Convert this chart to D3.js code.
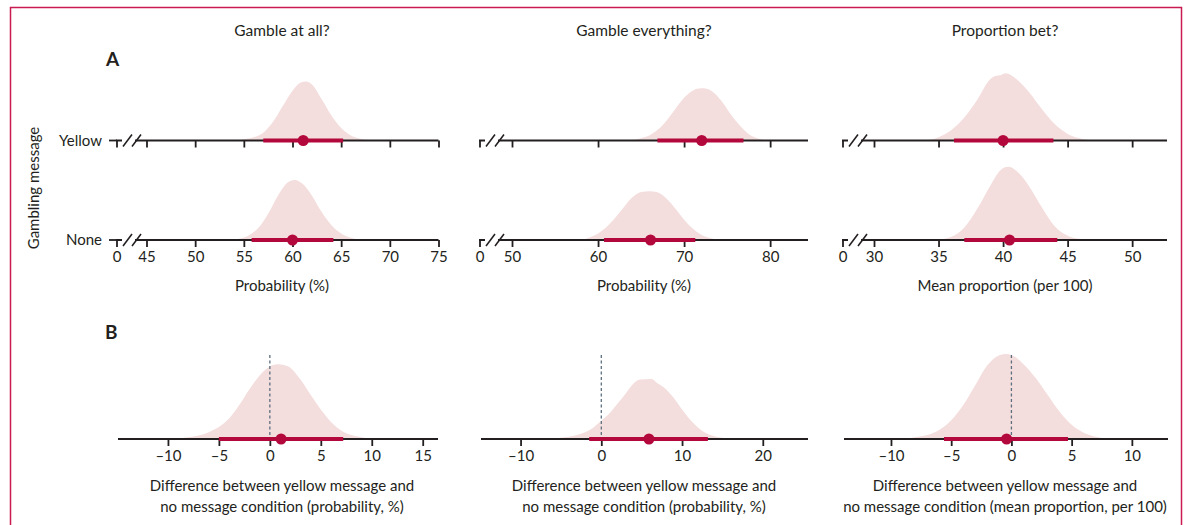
<!DOCTYPE html>
<html>
<head>
<meta charset="utf-8">
<script src="https://cdn.jsdelivr.net/npm/d3@7"></script>
<style>
  body { margin: 0; background: #fff; }
  svg text { font-family: Lato, 'Open Sans', sans-serif; fill: #231f20; }
</style>
</head>
<body>
<svg id="chart" width="1189" height="525"></svg>
<script>
// titles and labels
var columnTitles = ['Gamble at all?', 'Gamble everything?', 'Proportion bet?'];
var rowLabels = ['Yellow', 'None'];
var axisTitlesA = ['Probability (%)', 'Probability (%)', 'Mean proportion (per 100)'];
var axisTitlesB = [
    ['Difference between yellow message and', 'no message condition (probability, %)'],
    ['Difference between yellow message and', 'no message condition (probability, %)'],
    ['Difference between yellow message and', 'no message condition (mean proportion, per 100)']
];

// axis extents (in value units) and tick values
var domainsA = [[45, 75], [50, 84.4], [30, 52.7]];
var ticksA = [[45, 50, 55, 60, 65, 70, 75], [50, 60, 70, 80], [30, 35, 40, 45, 50]];
var domainsB = [[-14.9, 16.5], [-14.9, 25.6], [-13.9, 13]];
var ticksB = [[-10, -5, 0, 5, 10, 15], [-10, 0, 10, 20], [-10, -5, 0, 5, 10]];

// point estimates and 95% intervals (rows: Yellow, None)
var estimatesA = [[61.1, 60.0], [72.05, 66.1], [40.0, 40.5]];
var intervalsA = [
    [[57.0, 65.2], [55.8, 64.2]],
    [[66.9, 76.9], [60.7, 71.3]],
    [[36.2, 43.9], [37.0, 44.2]]
];
var estimatesB = [1.1, 5.9, -0.4];
var intervalsB = [[-5.0, 7.2], [-1.5, 13.2], [-5.6, 4.7]];

// posterior densities, [value, density]
var densAtAllYellow = [[54, 0], [55, 0.004], [56, 0.01], [57, 0.024], [58, 0.057], [59, 0.105], [60, 0.152],
    [60.8, 0.176], [61.4, 0.18], [62, 0.171], [63, 0.126], [64, 0.076], [65, 0.038], [66, 0.015], [67, 0.005], [68, 0]];
var densAtAllNone = [[53.5, 0], [54.5, 0.004], [55.5, 0.014], [56.5, 0.037], [57.5, 0.08], [58.5, 0.135], [59.5, 0.175],
    [60.2, 0.183], [61, 0.172], [62, 0.135], [63, 0.085], [64, 0.045], [65, 0.02], [66, 0.007], [67, 0]];
var densEverythingYellow = [[63.5, 0], [65, 0.007], [66, 0.016], [67, 0.034], [68, 0.062], [69, 0.097], [70, 0.13],
    [71, 0.152], [72, 0.159], [72.6, 0.158], [73.5, 0.145], [74.5, 0.115], [75.5, 0.077], [76.5, 0.045],
    [77.5, 0.02], [78.5, 0.007], [79.5, 0]];
var densEverythingNone = [[58, 0], [59, 0.008], [60, 0.02], [61, 0.04], [62, 0.068], [63, 0.1], [64, 0.13],
    [65, 0.146], [66, 0.149], [66.8, 0.146], [68, 0.125], [69, 0.095], [70, 0.062], [71, 0.035], [72, 0.016],
    [73, 0.006], [74, 0]];
var densProportionYellow = [[34, 0], [35, 0.01], [36, 0.032], [37, 0.07], [38, 0.124], [39, 0.187], [39.4, 0.197],
    [39.8, 0.199], [40.2, 0.205], [41, 0.188], [42, 0.148], [43, 0.096], [44, 0.05], [45, 0.02], [46, 0.006], [47, 0]];
var densProportionNone = [[34.8, 0], [36, 0.01], [37, 0.038], [38, 0.095], [39, 0.165], [39.8, 0.213], [40.4, 0.223],
    [41, 0.212], [42, 0.165], [43, 0.1], [44, 0.042], [45, 0.013], [46, 0.003], [46.5, 0]];
var densDiffAtAll = [[-9, 0], [-8, 0.003], [-7, 0.006], [-6, 0.012], [-5, 0.021], [-4, 0.036], [-3, 0.06], [-2, 0.088],
    [-1, 0.112], [0, 0.128], [0.8, 0.132], [1.8, 0.128], [3, 0.105], [4, 0.078], [5, 0.052], [6, 0.03], [7, 0.015],
    [8, 0.007], [9, 0.003], [10, 0]];
var densDiffEverything = [[-6, 0], [-5, 0.002], [-4, 0.004], [-3, 0.007], [-2, 0.012], [-1, 0.02], [0, 0.032],
    [1, 0.045], [2, 0.062], [3, 0.08], [4, 0.098], [4.8, 0.105], [6.2, 0.106], [7, 0.098], [8, 0.088], [9, 0.072],
    [10, 0.052], [11, 0.034], [12, 0.02], [13, 0.01], [14, 0.005], [15, 0.002], [17, 0]];
var densDiffProportion = [[-9, 0], [-8, 0.003], [-7, 0.007], [-6, 0.016], [-5, 0.033], [-4, 0.06], [-3, 0.095],
    [-2, 0.13], [-1, 0.148], [-0.4, 0.15], [0.3, 0.145], [1, 0.132], [2, 0.108], [3, 0.078], [4, 0.048], [5, 0.025],
    [6, 0.011], [7, 0.004], [8, 0]];

var densitiesA = [
    [densAtAllYellow, densAtAllNone],
    [densEverythingYellow, densEverythingNone],
    [densProportionYellow, densProportionNone]
];
var densitiesB = [densDiffAtAll, densDiffEverything, densDiffProportion];

// layout
var colLeft = [117, 480, 843];
var colRightA = [438.5, 808, 1167];
var colRightB = [438, 808, 1168];
var breakGap = [29.5, 32, 31];
var rowY = [140.5, 240];
var axisYB = 439;
var colCenter = [282, 644, 1005];
var fontSize = 15;

var ink = '#231f20';
var red = '#b3083c';
var fill = '#f4dddd';

var svg = d3.select('#chart');

// frame
svg.append('rect')
    .attr('x', 10.5).attr('y', 7.5)
    .attr('width', 1171).attr('height', 540)
    .attr('fill', 'none')
    .attr('stroke', '#c91b51')
    .attr('stroke-width', 1.5);

function fmt(d) {
    return d < 0 ? '\u2013' + (-d) : String(d);
}

function drawDensity(g, x, y, data) {
    var area = d3.area()
        .x(function (d) { return x(d[0]); })
        .y0(y(0))
        .y1(function (d) { return y(d[1]); })
        .curve(d3.curveMonotoneX);
    g.append('path')
        .datum(data)
        .attr('d', area)
        .attr('fill', fill);
}

function drawAxis(g, x, ticks, baseY, left, right, broken, labels) {
    var ax = g.append('g')
        .attr('transform', 'translate(0,' + baseY + ')')
        .call(d3.axisBottom(x).tickValues(ticks).tickSize(7).tickPadding(4)
            .tickFormat(labels ? fmt : function () { return ''; }));
    ax.select('.domain').remove();
    ax.selectAll('.tick line').attr('stroke', ink).attr('stroke-width', 1.8);
    ax.selectAll('.tick text').attr('font-size', fontSize).attr('fill', ink)
        .style('font-family', 'Lato, sans-serif');

    if (!broken) {
        g.append('line')
            .attr('x1', left).attr('x2', right)
            .attr('y1', baseY).attr('y2', baseY)
            .attr('stroke', ink).attr('stroke-width', 2);
        return;
    }
    // broken axis: short piece at zero, two slashes, then the scale
    g.append('line')
        .attr('x1', left - 1).attr('x2', left + 5)
        .attr('y1', baseY).attr('y2', baseY)
        .attr('stroke', ink).attr('stroke-width', 2);
    g.append('line')
        .attr('x1', left + 18).attr('x2', right)
        .attr('y1', baseY).attr('y2', baseY)
        .attr('stroke', ink).attr('stroke-width', 2);
    [6, 15].forEach(function (off) {
        g.append('line')
            .attr('x1', left + off).attr('y1', baseY + 6)
            .attr('x2', left + off + 9).attr('y2', baseY - 6)
            .attr('stroke', ink).attr('stroke-width', 1.5);
    });
    g.append('line')
        .attr('x1', left).attr('x2', left)
        .attr('y1', baseY).attr('y2', baseY + 7)
        .attr('stroke', ink).attr('stroke-width', 1.8);
    if (labels) {
        g.append('text')
            .attr('x', left).attr('y', baseY + 11)
            .attr('dy', '0.71em')
            .attr('text-anchor', 'middle')
            .attr('font-size', fontSize)
            .text('0');
    }
}

function drawInterval(g, x, baseY, ci, est) {
    g.append('line')
        .attr('x1', x(ci[0])).attr('x2', x(ci[1]))
        .attr('y1', baseY).attr('y2', baseY)
        .attr('stroke', red).attr('stroke-width', 4);
    g.append('circle')
        .attr('cx', x(est)).attr('cy', baseY)
        .attr('r', 5.5)
        .attr('fill', red);
}

// panel letters
svg.append('text').attr('x', 106).attr('y', 66).attr('font-size', 19).attr('font-weight', 'bold').text('A');
svg.append('text').attr('x', 105).attr('y', 339).attr('font-size', 19).attr('font-weight', 'bold').text('B');

// row labels and y axis title
rowLabels.forEach(function (lab, r) {
    svg.append('text')
        .attr('x', 102).attr('y', rowY[r])
        .attr('dy', '0.35em')
        .attr('text-anchor', 'end')
        .attr('font-size', fontSize)
        .text(lab);
    svg.append('line')
        .attr('x1', 109).attr('x2', colLeft[0])
        .attr('y1', rowY[r]).attr('y2', rowY[r])
        .attr('stroke', ink).attr('stroke-width', 1.8);
});
svg.append('text')
    .attr('transform', 'translate(34,188) rotate(-90)')
    .attr('dy', '0.35em')
    .attr('text-anchor', 'middle')
    .attr('font-size', fontSize)
    .text('Gambling message');

columnTitles.forEach(function (title, i) {
    svg.append('text')
        .attr('x', colCenter[i]).attr('y', 36)
        .attr('text-anchor', 'middle')
        .attr('font-size', 15.5)
        .text(title);

    // panel A
    var gA = svg.append('g');
    var xA = d3.scaleLinear().domain(domainsA[i]).range([colLeft[i] + breakGap[i], colRightA[i]]);
    rowLabels.forEach(function (lab, r) {
        var yA = d3.scaleLinear().domain([0, 0.25]).range([rowY[r], rowY[r] - 82]);
        drawDensity(gA, xA, yA, densitiesA[i][r]);
        // tick labels only under the bottom row
        drawAxis(gA, xA, ticksA[i], rowY[r], colLeft[i], colRightA[i], true, r === rowLabels.length - 1);
        drawInterval(gA, xA, rowY[r], intervalsA[i][r], estimatesA[i][r]);
    });
    gA.append('text')
        .attr('x', colCenter[i]).attr('y', 291)
        .attr('text-anchor', 'middle')
        .attr('font-size', fontSize)
        .text(axisTitlesA[i]);

    // panel B
    var gB = svg.append('g');
    var xB = d3.scaleLinear().domain(domainsB[i]).range([colLeft[i] + 1, colRightB[i]]);
    var yB = d3.scaleLinear().domain([0, 0.15]).range([axisYB, axisYB - 85]);
    drawDensity(gB, xB, yB, densitiesB[i]);
    gB.append('line')
        .attr('x1', xB(0)).attr('x2', xB(0))
        .attr('y1', 355).attr('y2', axisYB)
        .attr('stroke', '#5d6f7e')
        .attr('stroke-width', 1.3)
        .attr('stroke-dasharray', '3,2.5');
    drawAxis(gB, xB, ticksB[i], axisYB, colLeft[i] + 1, colRightB[i], false, true);
    drawInterval(gB, xB, axisYB, intervalsB[i], estimatesB[i]);
    axisTitlesB[i].forEach(function (line, k) {
        gB.append('text')
            .attr('x', colCenter[i]).attr('y', 491 + k * 21)
            .attr('text-anchor', 'middle')
            .attr('font-size', fontSize)
            .text(line);
    });
});
</script>
</body>
</html>
